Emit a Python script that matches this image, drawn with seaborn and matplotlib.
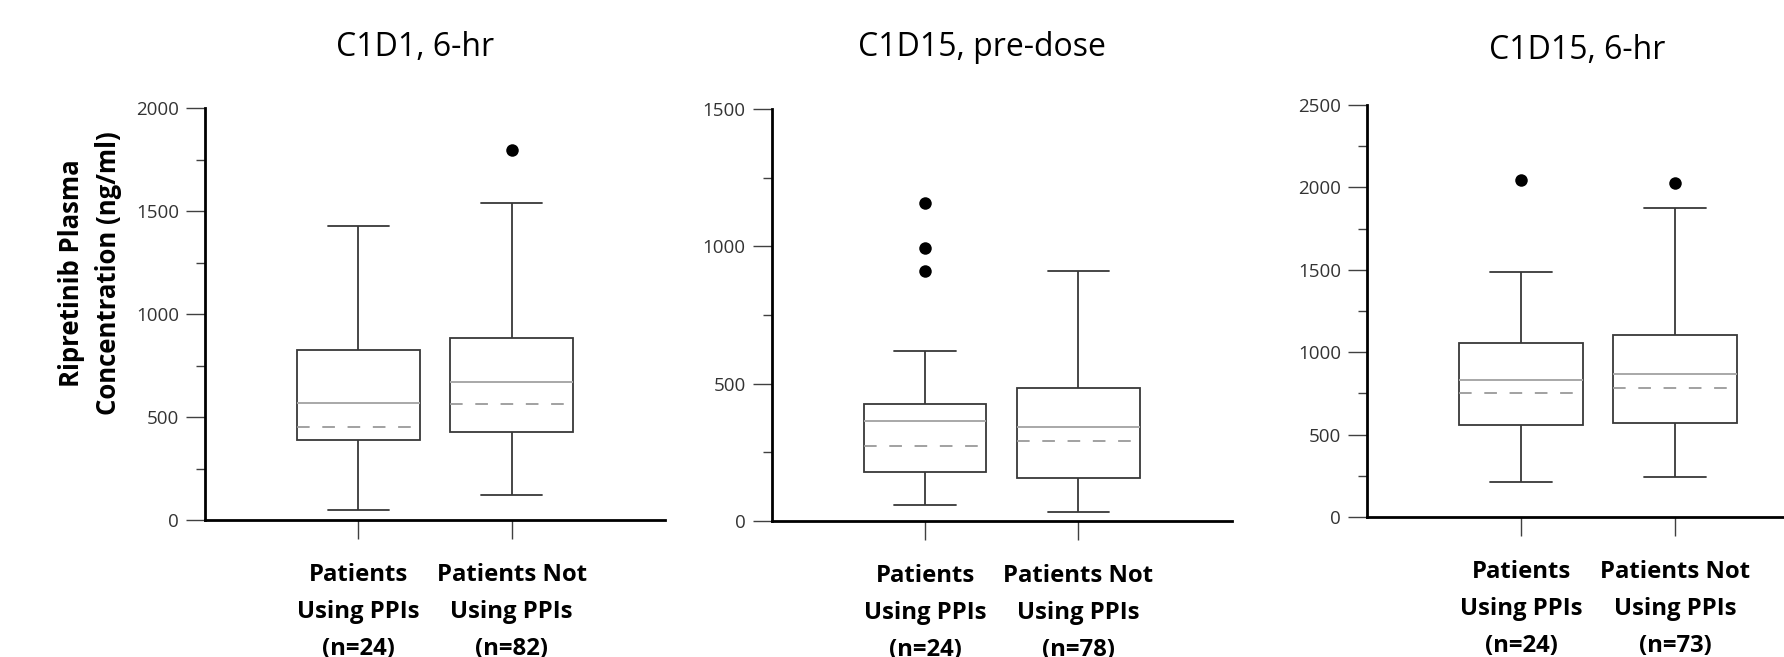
import numpy as np
import pandas as pd
import matplotlib
matplotlib.use("Agg")
import matplotlib.pyplot as plt
from matplotlib.ticker import MultipleLocator
import seaborn as sns

# ---------------- data ----------------
panel_titles = ["C1D1, 6-hr", "C1D15, pre-dose", "C1D15, 6-hr"]
group_names = ["Patients\nUsing PPIs", "Patients Not\nUsing PPIs"]
n_using_ppis = [24, 24, 24]
n_not_using_ppis = [82, 78, 73]

whisker_low = [[49, 120], [57, 33], [210, 242]]
q1 = [[389, 428], [177, 156], [560, 568]]
median = [[567, 672], [364, 343], [831, 869]]
mean = [[452, 562], [274, 290], [750, 780]]
q3 = [[826, 884], [426, 483], [1057, 1105]]
whisker_high = [[1430, 1542], [617, 912], [1487, 1878]]
outliers = [[[], [1799]], [[1158, 993, 909], []], [[2045], [2025]]]

y_max = [2000, 1500, 2500]
y_label = "Ripretinib Plasma\nConcentration (ng/ml)"

# ---------------- style ----------------
sns.set_theme(style="ticks")
plt.rcParams["font.family"] = ["Open Sans", "DejaVu Sans"]

W, H = 1784, 657
fig = plt.figure(figsize=(W / 100, H / 100), dpi=100)

# axes rectangles in pixels: left, top(y of max), bottom(y of 0), width
rects_px = [(205, 108.3, 520.0, 460), (771.7, 109.3, 520.7, 460), (1367, 105.0, 517.0, 462)]
title_px = [(415, 56.4), (982, 56.4), (1577, 59)]

box_line = "#383838"
median_col = "#a8a8a8"
mean_col = "#9a9a9a"

for i in range(3):
    left, top, bottom, width = rects_px[i]
    ax = fig.add_axes([left / W, 1 - bottom / H, width / W, (bottom - top) / H])

    labels = [f"{group_names[0]}\n(n={n_using_ppis[i]})",
              f"{group_names[1]}\n(n={n_not_using_ppis[i]})"]

    rows = []
    for j, lab in enumerate(labels):
        for v in (whisker_low[i][j], q1[i][j], median[i][j], q3[i][j], whisker_high[i][j]):
            rows.append((lab, v))
    box_df = pd.DataFrame(rows, columns=["group", "conc"])
    mean_df = pd.DataFrame({"group": labels, "conc": mean[i]})
    out_df = pd.DataFrame([(labels[j], v) for j in range(2) for v in outliers[i][j]],
                          columns=["group", "conc"])

    sns.boxplot(data=box_df, x="group", y="conc", order=labels, whis=(0, 100),
                width=0.8, color="white", linecolor=box_line, linewidth=1.3,
                showfliers=False,
                medianprops={"color": median_col, "linewidth": 1.4},
                ax=ax)
    sns.boxplot(data=mean_df, x="group", y="conc", order=labels, whis=(0, 100),
                width=0.8, fill=False, linecolor=mean_col, linewidth=1.3,
                showfliers=False,
                boxprops={"visible": False},
                whiskerprops={"visible": False},
                capprops={"visible": False},
                medianprops={"color": mean_col, "linestyle": (0, (7, 7)), "linewidth": 1.3},
                ax=ax)
    if len(out_df):
        sns.stripplot(data=out_df, x="group", y="conc", order=labels, jitter=False,
                      color="black", size=9, linewidth=0, ax=ax, zorder=5)

    ax.set_xlim(-1, 2)
    ax.set_ylim(0, y_max[i])
    ax.yaxis.set_major_locator(MultipleLocator(500))
    ax.yaxis.set_minor_locator(MultipleLocator(250))
    ax.set_xlabel("")
    ax.set_ylabel("")
    sns.despine(ax=ax)
    for s in ("left", "bottom"):
        ax.spines[s].set_linewidth(2.0)
        ax.spines[s].set_color("black")
    ax.tick_params(axis="y", which="major", length=13.7, width=1.0, color="#404040",
                   labelsize=13.5, labelcolor="#333333", pad=5)
    ax.tick_params(axis="y", which="minor", length=6.5, width=1.0, color="#404040")
    ax.tick_params(axis="x", which="major", length=14, width=1.0, color="#404040",
                   labelsize=17.2, labelcolor="black", pad=17)
    for t in ax.get_xticklabels():
        t.set_fontweight("bold")
        t.set_linespacing(1.72)

    tx, ty = title_px[i]
    fig.text(tx / W, 1 - ty / H, panel_titles[i], ha="center", va="baseline",
             fontsize=23, color="black")

fig.text(90 / W, 1 - 273 / H, y_label, rotation=90, ha="center", va="center",
         fontsize=18.5, fontweight="bold", linespacing=1.45, multialignment="center",
         color="black")

fig.savefig("out.png", dpi=100)
